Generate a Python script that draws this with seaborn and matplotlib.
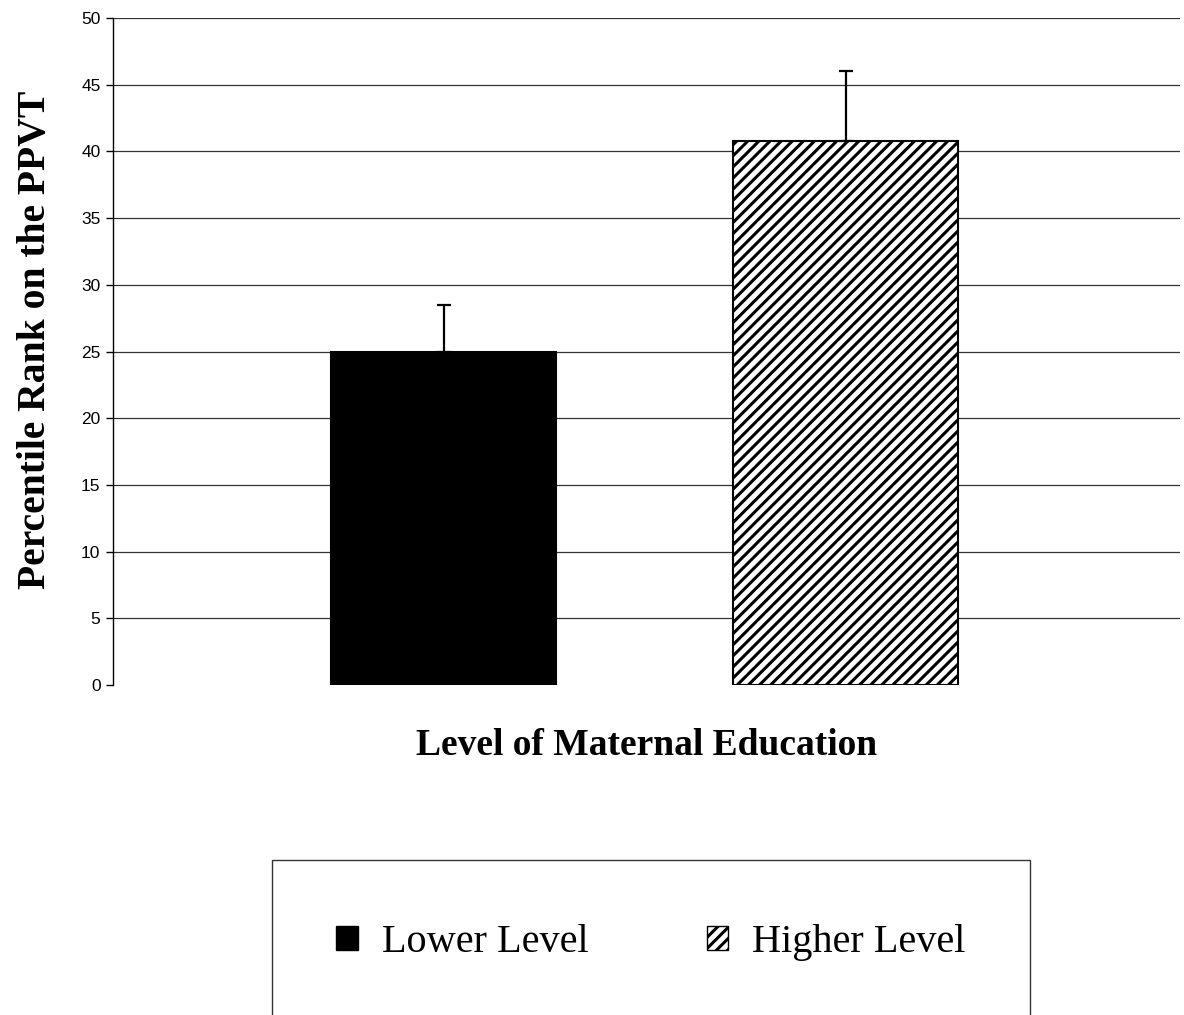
import matplotlib
matplotlib.use("Agg")
import matplotlib.pyplot as plt
import pandas as pd
import seaborn as sns

# Data
groups = ["Lower Level", "Higher Level"]
means = [25.0, 40.8]
err_plus = [3.5, 5.2]
y_ticks = [0, 5, 10, 15, 20, 25, 30, 35, 40, 45, 50]

df = pd.DataFrame({"group": groups, "rank": means})

sns.set_style("white")
plt.rcParams["hatch.linewidth"] = 2.2
plt.rcParams["font.family"] = ["Liberation Serif", "DejaVu Serif"]
plt.rcParams["text.color"] = "black"
plt.rcParams["axes.labelcolor"] = "black"
plt.rcParams["ytick.color"] = "black"

fig = plt.figure(figsize=(11.84, 10.15), dpi=100)
ax = fig.add_axes([113 / 1184, 1 - 685 / 1015, (1180 - 113) / 1184, (685 - 18) / 1015])

sns.barplot(data=df, x="group", y="rank", hue="group", order=groups,
            hue_order=groups, palette=["black", "white"], width=0.56,
            edgecolor="black", linewidth=1.5, legend=False, ax=ax)
ax.patches[1].set_hatch("///")

ax.errorbar(x=[0, 1], y=means, yerr=[[0, 0], err_plus], fmt="none",
            ecolor="black", elinewidth=1.6, capsize=5, capthick=1.6)

ax.set_ylim(0, 50)
ax.set_xlim(-0.823, 1.831)
ax.set_yticks(y_ticks)
ax.set_yticklabels([str(t) for t in y_ticks], family="Liberation Sans", fontsize=12.5)
ax.tick_params(axis="y", direction="out", length=5, width=1, color="black", pad=4, left=True)
ax.tick_params(axis="x", bottom=False, labelbottom=False)
ax.yaxis.grid(True, color="#333333", linewidth=0.9)
ax.yaxis.get_gridlines()[0].set_visible(False)
ax.set_axisbelow(True)
for s in ["top", "right", "bottom"]:
    ax.spines[s].set_visible(False)
ax.spines["left"].set_color("black")
ax.spines["left"].set_linewidth(1)

ax.set_ylabel("Percentile Rank on the PPVT", fontsize=28.5, fontweight="bold")
ax.yaxis.set_label_coords(-0.0555, 0.517)
ax.set_xlabel("Level of Maternal Education", fontsize=27, fontweight="bold", labelpad=31)

handles = [plt.Rectangle((0, 0), 1, 1, facecolor="black", edgecolor="black"),
           plt.Rectangle((0, 0), 1, 1, facecolor="white", edgecolor="black", hatch="///")]
leg = fig.legend(handles, groups, loc="center", ncol=2, mode="expand",
                 bbox_to_anchor=(272 / 1184, 0.071, 758 / 1184, 0),
                 borderaxespad=0, frameon=True, fancybox=False, edgecolor="black",
                 fontsize=29, handlelength=0.53, handleheight=0.53,
                 handletextpad=0.6, borderpad=1.6)
leg.get_frame().set_linewidth(1)

fig.savefig("out.png", dpi=100)
